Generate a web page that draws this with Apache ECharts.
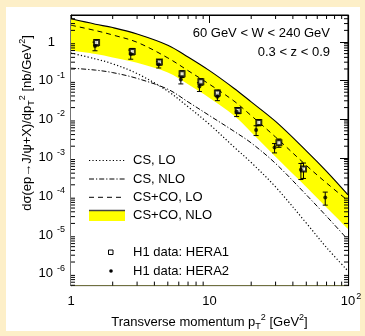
<!DOCTYPE html>
<html><head><meta charset="utf-8">
<script src="https://cdn.jsdelivr.net/npm/echarts@6/dist/echarts.min.js"></script>
<style>html,body{margin:0;padding:0;background:#fdefc8}#c{width:365px;height:336px}</style>
</head><body><div id="c"></div>
<script>
// theory curves (p_T^2 in GeV^2, dσ/dp_T^2 in nb/GeV^2)
const xPts     = [1, 1.5, 2, 3, 5, 7, 10, 15, 20, 30, 50, 70, 100];
const nloUpper = [3.98, 2.89, 2.36, 1.61, 0.825, 0.409, 0.181, 0.0635, 0.0281, 0.00875, 0.00152, 4.48e-4, 1.10e-4];
const nloLower = [0.599, 0.488, 0.398, 0.289, 0.161, 0.0801, 0.0354, 0.0124, 0.0046, 0.00107, 1.76e-4, 5.18e-5, 1.44e-5];
const coLO     = [2.72, 1.98, 1.52, 0.983, 0.387, 0.181, 0.0801, 0.0297, 0.0124, 0.00344, 6.35e-4, 2.22e-4, 7.78e-5];
const csLO     = [0.518, 0.365, 0.272, 0.152, 0.0533, 0.021, 0.00734, 0.00192, 7.55e-4, 1.76e-4, 2.04e-5, 4.74e-6, 1.17e-6];
const csNLO    = [0.21, 0.187, 0.161, 0.114, 0.0598, 0.0281, 0.0124, 0.00489, 0.00243, 7.13e-4, 1.10e-4, 3.06e-5, 7.55e-6];
// H1 data
const hera1X   = [1.53, 2.77, 4.35, 6.34, 8.66, 11.4, 16.1, 22.7, 31.7, 47.7];
const hera1Y   = [0.966, 0.571, 0.301, 0.15, 0.0938, 0.0474, 0.0169, 0.00825, 0.00247, 5.12e-4];
const hera1Err = [0.18, 0.11, 0.05, 0.03, 0.018, 0.009, 0.003, 0.0015, 0.0006, 2.2e-4];
const hera2X   = [1.49, 2.70, 4.3, 6.21, 8.46, 11.4, 15.7, 21.7, 29.5, 45.7, 68.5];
const hera2Y   = [0.792, 0.488, 0.262, 0.107, 0.0701, 0.0382, 0.0157, 0.00527, 0.00184, 4.94e-4, 9.44e-5];
const hera2Err = [0.2, 0.13, 0.05, 0.025, 0.018, 0.008, 0.004, 0.0015, 0.0005, 2.2e-4, 3.5e-5];
// axes
const xMin = 1, xMax = 100, yMin = 4.9e-7, yMax = 5.0;
const legendNames = ['CS, LO', 'CS, NLO', 'CS+CO, LO', 'CS+CO, NLO'];
const dataNames = ['H1 data: HERA1', 'H1 data: HERA2'];
const annot = ['60 GeV < W < 240 GeV', '0.3 < z < 0.9'];

const FONT = 'Liberation Sans, Arial, sans-serif';
const pairs = (xs, ys) => xs.map((x, i) => [x, ys[i]]);

function minorVals(lo, hi) {
  const out = [];
  for (let d = -7; d <= 2; d++) for (let m = 2; m <= 9; m++) {
    const v = m * Math.pow(10, d);
    if (v > lo && v < hi) out.push(v);
  }
  return out;
}
const xMinor = minorVals(xMin, xMax);
const yMinor = minorVals(yMin, yMax);

const chart = echarts.init(document.getElementById('c'), null, {renderer: 'canvas'});

const SMOOTH = 0.35;
const lineBase = {type: 'line', symbol: 'none', smooth: SMOOTH, xAxisIndex: 0, yAxisIndex: 0, silent: true};

function errRender(params, api) {
  const x = api.value(0), y = api.value(1), e = api.value(2);
  const p = api.coord([x, y + e]), q = api.coord([x, y - e]);
  const st = {stroke: '#000', lineWidth: 1};
  return {type: 'group', children: [
    {type: 'line', shape: {x1: p[0], y1: p[1], x2: q[0], y2: q[1]}, style: st},
    {type: 'line', shape: {x1: p[0] - 2.5, y1: p[1], x2: p[0] + 2.5, y2: p[1]}, style: st},
    {type: 'line', shape: {x1: q[0] - 2.5, y1: q[1], x2: q[0] + 2.5, y2: q[1]}, style: st}
  ]};
}

const yLabelRich = {
  b: {fontSize: 13, fontFamily: FONT, color: '#000', lineHeight: 20},
  e: {fontSize: 9, fontFamily: FONT, color: '#000', verticalAlign: 'top', padding: [0, 0, 0, 4]},
  sp: {width: 10}
};
const xLabelRich = {
  b: {fontSize: 13, fontFamily: FONT, color: '#000', lineHeight: 20},
  e: {fontSize: 9, fontFamily: FONT, color: '#000', verticalAlign: 'top', padding: [0, 0, 0, 1]},
  sp: {width: 6}
};
const nameRich = {
  sub: {fontSize: 9, fontFamily: FONT, color: '#000', verticalAlign: 'bottom'},
  sup: {fontSize: 9, fontFamily: FONT, color: '#000', verticalAlign: 'top'}
};

const axLine = {show: true, lineStyle: {color: '#000', width: 1.2}};
const axTick = {show: true, inside: true, length: 8, lineStyle: {color: '#000', width: 1}};
const noLine = {width: 0, opacity: 0};

const option = {
  backgroundColor: '#fdefc8',
  animation: false,
  grid: {left: 71, right: 17, top: 15, bottom: 44, show: true, backgroundColor: '#fff', borderColor: '#000', borderWidth: 1},
  xAxis: [
    {type: 'log', logBase: 10, min: xMin, max: xMax, position: 'bottom',
     axisLine: axLine, axisTick: axTick, splitLine: {show: false},
     axisLabel: {margin: 6, showMinLabel: true, showMaxLabel: true, rich: xLabelRich,
       formatter: v => { const k = Math.round(Math.log10(v)); if (Math.abs(Math.log10(v) - k) > 0.01) return '';
         if (k === 0) return '{b|1}'; if (k === 1) return '{b|10}'; return '{sp|}{b|10}{e|' + k + '}'; }},
     name: 'Transverse momentum p{sub|T}{sup|2} [GeV{sup|2}]', nameLocation: 'middle', nameGap: 22,
     nameTextStyle: {fontSize: 13, fontFamily: FONT, color: '#000', lineHeight: 18, rich: nameRich}},
    {type: 'log', logBase: 10, min: xMin, max: xMax, position: 'top',
     axisLine: axLine, axisTick: axTick, splitLine: {show: false}, axisLabel: {show: false}}
  ],
  yAxis: [
    {type: 'log', logBase: 10, min: yMin, max: yMax, position: 'left', splitNumber: 7,
     axisLine: axLine, axisTick: axTick, splitLine: {show: false},
     axisLabel: {margin: 6, showMinLabel: false, showMaxLabel: false, rich: yLabelRich,
       formatter: v => { const k = Math.round(Math.log10(v)); if (Math.abs(Math.log10(v) - k) > 0.01) return '';
         if (k === 0) return '{b|1}{sp|}'; return '{b|10}{e|' + k + '}'; }}},
    {type: 'log', logBase: 10, min: yMin, max: yMax, position: 'right', splitNumber: 7,
     axisLine: axLine, axisTick: axTick, splitLine: {show: false}, axisLabel: {show: false}}
  ],
  series: [
    // NLO band: yellow area under upper edge, then white area under lower edge
    Object.assign({}, lineBase, {name: legendNames[3] + ' fill', data: pairs(xPts, nloUpper),
      lineStyle: noLine, areaStyle: {color: '#ffff00', opacity: 1, origin: 'start'}, z: 1}),
    Object.assign({}, lineBase, {name: 'band-lower', data: pairs(xPts, nloLower),
      lineStyle: noLine, areaStyle: {color: '#ffffff', opacity: 1, origin: 'start'}, z: 2}),
    Object.assign({}, lineBase, {name: legendNames[3], data: pairs(xPts, nloUpper),
      lineStyle: {color: '#000', width: 1.1}, z: 3}),
    Object.assign({}, lineBase, {name: legendNames[2], data: pairs(xPts, coLO),
      lineStyle: {color: '#000', width: 1, type: [5, 4]}, z: 3}),
    Object.assign({}, lineBase, {name: legendNames[0], data: pairs(xPts, csLO),
      lineStyle: {color: '#000', width: 1.2, type: [1.2, 2.2]}, z: 3}),
    Object.assign({}, lineBase, {name: legendNames[1], data: pairs(xPts, csNLO),
      lineStyle: {color: '#000', width: 1, type: [5, 2, 1.2, 2]}, z: 3}),
    {type: 'custom', name: 'err1', renderItem: errRender, z: 4, silent: true,
     data: hera1X.map((x, i) => [x, hera1Y[i], hera1Err[i]]), encode: {x: 0, y: 1}},
    {type: 'custom', name: 'err2', renderItem: errRender, z: 4, silent: true,
     data: hera2X.map((x, i) => [x, hera2Y[i], hera2Err[i]]), encode: {x: 0, y: 1}},
    {type: 'scatter', name: dataNames[0], data: pairs(hera1X, hera1Y), symbol: 'emptyRect', symbolSize: 5,
     itemStyle: {color: '#000', borderColor: '#000', borderWidth: 1.1}, z: 5, silent: true},
    {type: 'scatter', name: dataNames[1], data: pairs(hera2X, hera2Y), symbol: 'circle', symbolSize: 4,
     itemStyle: {color: '#000'}, z: 6, silent: true},
    // minor log ticks
    {type: 'custom', name: 'xminor', silent: true, z: 7, data: xMinor.map(v => [v, 1]), encode: {x: 0, y: 1},
     renderItem: (params, api) => { const v = api.value(0);
       const b = api.coord([v, yMin]), t = api.coord([v, yMax]);
       const st = {stroke: '#000', lineWidth: 1};
       return {type: 'group', children: [
         {type: 'line', shape: {x1: b[0], y1: b[1], x2: b[0], y2: b[1] - 4}, style: st},
         {type: 'line', shape: {x1: t[0], y1: t[1], x2: t[0], y2: t[1] + 4}, style: st}]}; }},
    {type: 'custom', name: 'yminor', silent: true, z: 7, data: yMinor.map(v => [2, v]), encode: {x: 0, y: 1},
     renderItem: (params, api) => { const v = api.value(1);
       const l = api.coord([xMin, v]), r = api.coord([xMax, v]);
       const st = {stroke: '#000', lineWidth: 1};
       return {type: 'group', children: [
         {type: 'line', shape: {x1: l[0], y1: l[1], x2: l[0] + 4, y2: l[1]}, style: st},
         {type: 'line', shape: {x1: r[0], y1: r[1], x2: r[0] - 4, y2: r[1]}, style: st}]}; }}
  ],
  graphic: [
    {type: 'rect', z: -100, silent: true, shape: {x: 6, y: 7, width: 354, height: 324}, style: {fill: '#fff'}},
    {type: 'text', x: 27, y: 123, rotation: Math.PI / 2, silent: true, z: 100,
     style: {text: 'dσ(ep→J/ψ+X)/dp{sub|T}{sup|2} [nb/GeV{sup|2}]', fontSize: 13, fontFamily: FONT, fill: '#000',
       align: 'center', verticalAlign: 'middle', lineHeight: 18,
       rich: {sub: {fontSize: 9, fontFamily: FONT, fill: '#000', verticalAlign: 'bottom'},
              sup: {fontSize: 9, fontFamily: FONT, fill: '#000', verticalAlign: 'top'}}}},
    {type: 'text', x: 330, y: 33, silent: true, z: 100,
     style: {text: annot[0], fontSize: 13, fontFamily: FONT, fill: '#000', align: 'right', verticalAlign: 'middle'}},
    {type: 'text', x: 330, y: 52, silent: true, z: 100,
     style: {text: annot[1], fontSize: 13, fontFamily: FONT, fill: '#000', align: 'right', verticalAlign: 'middle'}},
    // legend
    {type: 'line', silent: true, z: 100, shape: {x1: 89, y1: 160.5, x2: 125, y2: 160.5},
     style: {stroke: '#000', lineWidth: 1.2, lineDash: [1.2, 2.2]}},
    {type: 'text', x: 133, y: 160.5, silent: true, z: 100,
     style: {text: legendNames[0], fontSize: 13, fontFamily: FONT, fill: '#000', verticalAlign: 'middle'}},
    {type: 'line', silent: true, z: 100, shape: {x1: 89, y1: 179, x2: 125, y2: 179},
     style: {stroke: '#000', lineWidth: 1, lineDash: [5, 2, 1.2, 2]}},
    {type: 'text', x: 133, y: 179, silent: true, z: 100,
     style: {text: legendNames[1], fontSize: 13, fontFamily: FONT, fill: '#000', verticalAlign: 'middle'}},
    {type: 'line', silent: true, z: 100, shape: {x1: 89, y1: 197.3, x2: 125, y2: 197.3},
     style: {stroke: '#000', lineWidth: 1, lineDash: [5, 4]}},
    {type: 'text', x: 133, y: 197.3, silent: true, z: 100,
     style: {text: legendNames[2], fontSize: 13, fontFamily: FONT, fill: '#000', verticalAlign: 'middle'}},
    {type: 'rect', silent: true, z: 100, shape: {x: 89, y: 210, width: 36, height: 11}, style: {fill: '#ffff00'}},
    {type: 'line', silent: true, z: 101, shape: {x1: 89, y1: 210.5, x2: 125, y2: 210.5},
     style: {stroke: '#444', lineWidth: 1.5}},
    {type: 'text', x: 133, y: 215.7, silent: true, z: 100,
     style: {text: legendNames[3], fontSize: 13, fontFamily: FONT, fill: '#000', verticalAlign: 'middle'}},
    {type: 'rect', silent: true, z: 100, shape: {x: 108.5, y: 250, width: 4.5, height: 4.5},
     style: {fill: '#fff', stroke: '#000', lineWidth: 1}},
    {type: 'text', x: 133, y: 252.5, silent: true, z: 100,
     style: {text: dataNames[0], fontSize: 13, fontFamily: FONT, fill: '#000', verticalAlign: 'middle'}},
    {type: 'circle', silent: true, z: 100, shape: {cx: 111, cy: 271, r: 1.8}, style: {fill: '#000'}},
    {type: 'text', x: 133, y: 271, silent: true, z: 100,
     style: {text: dataNames[1], fontSize: 13, fontFamily: FONT, fill: '#000', verticalAlign: 'middle'}}
  ]
};
chart.setOption(option);
</script>
</body></html>
